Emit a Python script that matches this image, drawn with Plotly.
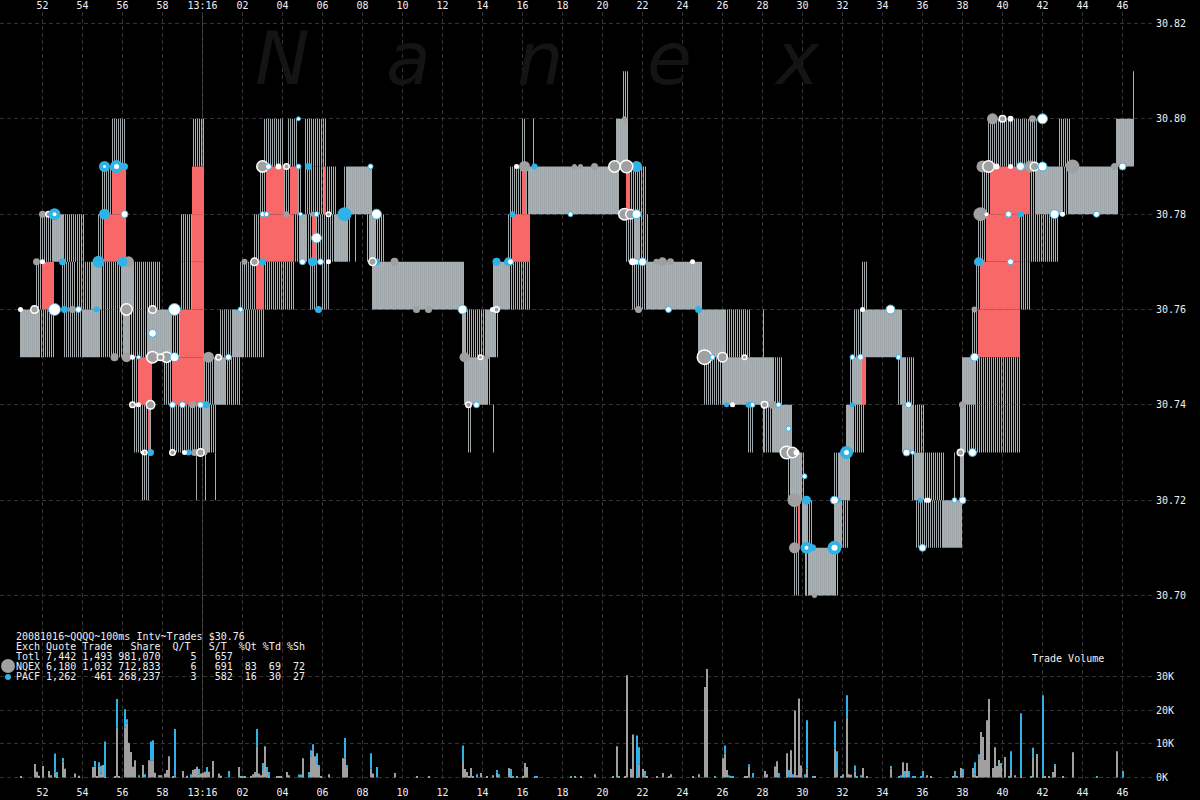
import plotly.graph_objects as go

# ---------- axis data ----------
x_tick_seconds = list(range(-8, 48, 2))
x_tick_labels = ["52", "54", "56", "58", "13:16", "02", "04", "06", "08", "10", "12", "14", "16", "18",
                 "20", "22", "24", "26", "28", "30", "32", "34", "36", "38", "40", "42", "44", "46"]
price_ticks = [30.70, 30.72, 30.74, 30.76, 30.78, 30.80, 30.82]
price_labels = ["30.70", "30.72", "30.74", "30.76", "30.78", "30.80", "30.82"]
volume_ticks = [0, 10000, 20000, 30000]
volume_labels = ["0K", "10K", "20K", "30K"]

# ---------- quote spread bands, in 100 ms bins from 13:16:00: (first bin, end bin, low, high) ----------
nqex_only = [
    (-69, -60, 30.75, 30.76), (9, 15, 30.75, 30.76), (326, 330, 30.75, 30.76), (385, 388, 30.75, 30.76),
    (-83, -80, 30.76, 30.77), (-70, -63, 30.76, 30.77), (19, 27, 30.76, 30.77), (54, 58, 30.76, 30.77),
    (60, 64, 30.76, 30.77), (215, 222, 30.76, 30.77), (330, 333, 30.76, 30.77), (387, 389, 30.76, 30.77),
    (-81, -75, 30.77, 30.78), (-52, -49, 30.77, 30.78), (26, 29, 30.77, 30.78), (52, 55, 30.77, 30.78),
    (57, 66, 30.77, 30.78), (153, 155, 30.77, 30.78), (212, 216, 30.77, 30.78), (388, 392, 30.77, 30.78),
    (-50, -45, 30.78, 30.79), (29, 32, 30.78, 30.79), (41, 44, 30.78, 30.79), (48, 50, 30.78, 30.79),
    (71, 72, 30.78, 30.79), (154, 160, 30.78, 30.79), (162, 163, 30.78, 30.79), (208, 209, 30.78, 30.79),
    (390, 394, 30.78, 30.79), (430, 433, 30.78, 30.79),
    (-45, -38, 30.79, 30.80), (31, 41, 30.79, 30.80), (43, 48, 30.79, 30.80), (160, 162, 30.79, 30.80),
    (393, 418, 30.79, 30.80),
    (-35, -32, 30.74, 30.75), (-19, -15, 30.74, 30.75), (1, 6, 30.74, 30.75), (251, 260, 30.74, 30.75),
    (324, 325, 30.74, 30.75), (348, 349, 30.74, 30.75),
    (-34, -27, 30.73, 30.74), (-26, -25, 30.73, 30.74), (-16, 0, 30.73, 30.74), (133, 135, 30.73, 30.74),
    (273, 276, 30.73, 30.74), (281, 285, 30.73, 30.74),
    (-30, -26, 30.72, 30.73), (-3, -2, 30.72, 30.73), (293, 294, 30.72, 30.73), (316, 318, 30.72, 30.73),
    (355, 356, 30.72, 30.73), (376, 377, 30.72, 30.73),
    (296, 298, 30.71, 30.72), (357, 370, 30.71, 30.72),
    (296, 299, 30.70, 30.71), (302, 303, 30.70, 30.71),
]
pacf_only = [
    (-81, -74, 30.75, 30.76), (-51, -39, 30.75, 30.76), (-36, -27, 30.75, 30.76), (-15, -11, 30.75, 30.76),
    (21, 31, 30.75, 30.76), (132, 142, 30.75, 30.76), (147, 148, 30.75, 30.76), (262, 274, 30.75, 30.76),
    (280, 281, 30.75, 30.76),
    (-63, -55, 30.76, 30.77), (-50, -40, 30.76, 30.77), (-34, -21, 30.76, 30.77), (-11, -5, 30.76, 30.77),
    (31, 46, 30.76, 30.77), (145, 146, 30.76, 30.77), (154, 164, 30.76, 30.77), (409, 414, 30.76, 30.77),
    (-69, -59, 30.77, 30.78), (-11, -5, 30.77, 30.78), (46, 49, 30.77, 30.78), (73, 74, 30.77, 30.78),
    (76, 77, 30.77, 30.78), (82, 84, 30.77, 30.78), (87, 91, 30.77, 30.78), (219, 223, 30.77, 30.78),
    (409, 428, 30.77, 30.78),
    (51, 61, 30.78, 30.79), (62, 67, 30.78, 30.79), (214, 222, 30.78, 30.79), (414, 417, 30.78, 30.79),
    (-5, 1, 30.79, 30.80), (51, 62, 30.79, 30.80), (165, 166, 30.79, 30.80), (428, 434, 30.79, 30.80),
    (210, 213, 30.80, 30.81), (465, 466, 30.80, 30.81),
    (12, 19, 30.74, 30.75), (143, 144, 30.74, 30.75), (286, 290, 30.74, 30.75), (352, 356, 30.74, 30.75),
    (387, 409, 30.74, 30.75),
    (4, 7, 30.73, 30.74), (145, 146, 30.73, 30.74), (280, 281, 30.73, 30.74), (326, 331, 30.73, 30.74),
    (356, 361, 30.73, 30.74), (382, 409, 30.73, 30.74),
    (1, 2, 30.72, 30.73), (6, 7, 30.72, 30.73), (300, 301, 30.72, 30.73), (361, 371, 30.72, 30.73),
    (303, 305, 30.71, 30.72), (320, 323, 30.71, 30.72),
    (301, 302, 30.70, 30.71), (317, 318, 30.70, 30.71),
]
both_exchanges = [
    (-91, -81, 30.75, 30.76), (-60, -51, 30.75, 30.76), (-39, -36, 30.75, 30.76), (-27, -15, 30.75, 30.76),
    (15, 21, 30.75, 30.76), (130, 132, 30.75, 30.76), (142, 147, 30.75, 30.76), (248, 262, 30.75, 30.76),
    (330, 350, 30.75, 30.76),
    (-55, -50, 30.76, 30.77), (-40, -34, 30.76, 30.77), (85, 131, 30.76, 30.77), (146, 154, 30.76, 30.77),
    (222, 250, 30.76, 30.77),
    (-75, -69, 30.77, 30.78), (49, 52, 30.77, 30.78), (66, 73, 30.77, 30.78), (84, 87, 30.77, 30.78),
    (216, 219, 30.77, 30.78),
    (72, 85, 30.78, 30.79), (163, 208, 30.78, 30.79), (417, 430, 30.78, 30.79), (433, 458, 30.78, 30.79),
    (207, 213, 30.79, 30.80), (457, 466, 30.79, 30.80),
    (6, 12, 30.74, 30.75), (131, 143, 30.74, 30.75), (260, 286, 30.74, 30.75), (325, 330, 30.74, 30.75),
    (349, 352, 30.74, 30.75), (380, 387, 30.74, 30.75),
    (0, 4, 30.73, 30.74), (285, 295, 30.73, 30.74), (322, 326, 30.73, 30.74), (350, 356, 30.73, 30.74),
    (379, 382, 30.73, 30.74),
    (294, 300, 30.72, 30.73), (318, 324, 30.72, 30.73), (356, 361, 30.72, 30.73), (379, 381, 30.72, 30.73),
    (300, 303, 30.71, 30.72), (316, 320, 30.71, 30.72), (370, 380, 30.71, 30.72),
    (303, 317, 30.70, 30.71),
]
crossed = [
    (-80, -74, 30.76, 30.77), (-5, 1, 30.76, 30.77), (27, 31, 30.76, 30.77), (389, 409, 30.76, 30.77),
    (-11, 1, 30.75, 30.76), (388, 409, 30.75, 30.76),
    (-49, -38, 30.77, 30.78), (-5, 1, 30.77, 30.78), (29, 46, 30.77, 30.78), (55, 57, 30.77, 30.78),
    (155, 164, 30.77, 30.78), (392, 409, 30.77, 30.78),
    (-45, -38, 30.78, 30.79), (-5, 1, 30.78, 30.79), (32, 41, 30.78, 30.79), (44, 48, 30.78, 30.79),
    (61, 62, 30.78, 30.79), (160, 162, 30.78, 30.79), (212, 214, 30.78, 30.79), (394, 414, 30.78, 30.79),
    (-32, -25, 30.74, 30.75), (-15, 1, 30.74, 30.75), (330, 332, 30.74, 30.75),
    (-27, -26, 30.73, 30.74), (298, 299, 30.71, 30.72),
]

# ---------- trades: (100 ms bin, price, trade-size marker) ----------
gray_trades = [
    (-65, 30.76, 7), (107, 30.76, 7), (113, 30.76, 7), (218, 30.76, 7), (386, 30.76, 6),
    (-83, 30.77, 7), (-37, 30.77, 11), (21, 30.77, 6), (96, 30.77, 8), (227, 30.77, 6), (230, 30.77, 9),
    (234, 30.77, 7), (389, 30.77, 7),
    (-80, 30.78, 7), (42, 30.78, 6), (55, 30.78, 5), (389, 30.78, 14),
    (-38, 30.75, 10), (-44, 30.75, 8), (3, 30.75, 11), (131, 30.75, 10), (142, 30.75, 5),
    (-5, 30.74, 7), (285, 30.74, 8), (380, 30.74, 7),
    (-4, 30.73, 7), (1, 30.73, 6),
    (161, 30.79, 11), (186, 30.79, 5), (189, 30.79, 5), (196, 30.79, 7), (414, 30.79, 12), (435, 30.79, 14),
    (456, 30.79, 7), (390, 30.79, 12),
    (211, 30.80, 5), (395, 30.80, 11), (415, 30.80, 7),
    (296, 30.72, 14), (296, 30.71, 11), (306, 30.70, 5),
]
blue_trades = [
    (-69, 30.76, 7), (-53, 30.76, 6), (58, 30.76, 7), (248, 30.76, 7),
    (-70, 30.77, 7), (-52, 30.77, 12), (-40, 30.77, 10), (30, 30.77, 7), (55, 30.77, 9), (87, 30.77, 7),
    (147, 30.77, 8), (388, 30.77, 9),
    (-49, 30.78, 11), (71, 30.78, 14), (155, 30.78, 6), (409, 30.78, 6),
    (2, 30.74, 7), (262, 30.74, 5), (273, 30.74, 6), (325, 30.74, 5),
    (-26, 30.73, 7), (-7, 30.73, 6),
    (-39, 30.79, 7), (53, 30.79, 7), (166, 30.79, 6), (217, 30.79, 11),
    (302, 30.72, 9), (318, 30.72, 5), (359, 30.72, 5), (305, 30.71, 7),
]
ringed_trades = [
    (-84, 30.76, 9), (-38, 30.76, 13), (-25, 30.76, 9), (147, 30.76, 7),
    (-25, 30.75, 13), (-18, 30.75, 12), (-21, 30.75, 8), (8, 30.75, 7), (139, 30.75, 6), (251, 30.75, 16),
    (260, 30.75, 11), (271, 30.75, 6),
    (-35, 30.74, 7), (-26, 30.74, 10), (133, 30.74, 7), (281, 30.74, 8),
    (-15, 30.73, 7), (-29, 30.73, 6), (-1, 30.73, 9), (379, 30.73, 8), (292, 30.73, 14), (295, 30.73, 12),
    (30, 30.79, 13), (42, 30.79, 7), (206, 30.79, 13), (212, 30.79, 14), (393, 30.79, 13), (416, 30.79, 10),
    (400, 30.80, 8), (26, 30.77, 9), (85, 30.77, 9), (-77, 30.78, 7), (63, 30.78, 6),
    (211, 30.78, 13), (214, 30.78, 11),
]
heavy_blue_trades = [
    (-74, 30.78, 12), (302, 30.71, 12), (316, 30.71, 14), (153, 30.77, 9), (322, 30.73, 13),
    (-43, 30.79, 13), (-49, 30.79, 11),
]
white_trades = [
    (-39, 30.78, 8), (30, 30.78, 6), (32, 30.78, 6), (49, 30.78, 5), (57, 30.78, 6), (87, 30.78, 11),
    (184, 30.78, 6), (217, 30.78, 10), (403, 30.78, 7), (447, 30.78, 7), (426, 30.78, 10),
    (-74, 30.76, 13), (-62, 30.76, 7), (-14, 30.76, 13), (19, 30.76, 6), (233, 30.76, 7), (130, 30.76, 10),
    (344, 30.76, 10), (-25, 30.755, 9), (57, 30.775, 11),
    (50, 30.77, 7), (59, 30.77, 7), (154, 30.77, 7), (217, 30.77, 7), (404, 30.77, 7), (220, 30.77, 9),
    (33, 30.79, 7), (48, 30.79, 6), (84, 30.79, 6), (460, 30.79, 8), (409, 30.79, 9), (420, 30.79, 10),
    (48, 30.80, 5), (420, 30.80, 11),
    (-14, 30.75, 10), (13, 30.75, 7), (-32, 30.75, 5), (255, 30.75, 6), (329, 30.75, 7), (348, 30.75, 6),
    (386, 30.75, 9), (325, 30.75, 6),
    (-15, 30.74, 7), (-10, 30.74, 7), (-1, 30.74, 7), (137, 30.74, 7), (275, 30.74, 6), (288, 30.74, 6),
    (353, 30.74, 7), (293, 30.735, 6),
    (352, 30.73, 8), (355, 30.73, 5), (385, 30.73, 9),
    (301, 30.725, 6), (316, 30.72, 9), (376, 30.72, 6), (380, 30.72, 8), (360, 30.71, 8),
]
small_white_trades = [
    (-91, 30.76, 5), (-80, 30.77, 5), (63, 30.77, 5), (245, 30.77, 5), (215, 30.77, 7),
    (38, 30.79, 6), (157, 30.79, 5), (397, 30.79, 6), (404, 30.79, 5), (-35, 30.75, 5),
    (-32, 30.74, 5), (265, 30.74, 5), (-30, 30.73, 4), (-9, 30.73, 5), (297, 30.73, 6),
    (362, 30.72, 5), (363, 30.72, 5), (392, 30.78, 4), (430, 30.78, 5), (145, 30.76, 5),
    (404, 30.80, 6), (330, 30.76, 5),
]

# ---------- trade volume per 100 ms bin: NQEX (gray) and PACF (blue) ----------
volume_bins = [
    -91, -84, -83, -82, -80, -77, -76, -74, -73, -70, -69, -64, -62, -55, -54, -53, -52, -51, -50, -49,
    -44, -43, -42, -39, -38, -37, -36, -35, -34, -32, -30, -29, -27, -26, -25, -24, -22, -21, -19, -18,
    -17, -15, -14, -10, -8, -6, -5, -4, -3, -2, -1, 0, 1, 2, 3, 5, 8, 9, 13, 18, 19, 20, 21, 24, 25, 26,
    27, 28, 29, 30, 31, 32, 33, 37, 38, 39, 42, 43, 48, 49, 50, 53, 54, 55, 56, 57, 58, 59, 63, 70, 71, 72,
    84, 85, 87, 96,
    107, 113, 130, 131, 132, 133, 134, 135, 137, 139, 142, 145, 147, 148, 153, 154, 155, 157, 160, 161,
    162, 166, 167, 184, 186, 189, 196, 205, 207, 208, 211, 212, 214, 215, 217, 218, 220, 221, 222, 227,
    230, 233, 234, 245, 248, 251, 252, 256, 260, 261, 262, 263, 264, 265, 271, 272, 273, 275, 281, 282,
    286, 287, 288, 292, 293, 294, 295, 296, 297, 298,
    299, 301, 302, 305, 306, 316, 317, 319, 320, 322, 323, 324, 326, 327, 329, 330, 332, 344, 348, 349,
    350, 351, 352, 353, 355, 356, 359, 360, 362, 364, 375, 376, 377, 379, 380, 385, 386, 387, 388, 389,
    390, 391, 392, 393, 395, 396, 397, 398, 399, 401, 403, 404, 406, 409, 414, 415, 417, 420, 421, 423,
    425, 426, 430, 435, 447, 457, 460,
]
volume_gray = [
    200, 4000, 1700, 500, 3400, 1900, 700, 1400, 300, 4700, 2600, 1200, 500, 3100, 3200, 400, 3200, 1200, 3700, 200,
    400, 14900, 400, 14900, 16000, 10300, 7600, 3200, 5100, 0, 3700, 0, 5100, 5100, 5100, 1400, 700, 700, 1200, 2200,
    6300, 400, 700, 1900, 500, 0, 2200, 2500, 3200, 1000, 1200, 1400, 1700, 1900, 1700, 4900, 1200, 500, 0, 3100, 400, 0, 200, 400, 1000, 1600,
    9300, 1200, 700, 2200, 9300, 1600, 200, 200, 400, 200, 1600, 700, 0, 0, 5700, 0, 6300, 8100, 6300, 4200, 3200, 400, 1000, 5700, 5700, 2800,
    2700, 1200, 0, 1300,
    400, 400, 4900, 2500, 1600, 200, 2800, 200, 0, 1300, 400, 700, 1400, 0, 2800, 300, 0, 200, 400, 4300,
    3100, 0, 0, 0, 200, 200, 1000, 200, 9300, 0, 200, 30400, 2500, 12800, 200, 3900, 2500, 700, 200, 200,
    1300, 400, 1000, 200, 1000, 26900, 32200, 0, 5700, 7100, 2200, 0, 0, 0, 400, 400, 3300, 0, 1900, 1000,
    3300, 4800, 0, 7200, 0, 8100, 0, 19900, 700, 23500,
    3600, 0, 2700, 0, 200, 8700, 1900, 0, 1000, 17900, 1000, 800, 1700, 0, 0, 2800, 400, 2700, 0, 0,
    4500, 0, 4300, 0, 0, 0, 0, 0, 700, 200, 200, 1000, 0, 2800, 700, 2800, 1000, 400, 5700, 13500,
    12000, 5200, 17000, 23300, 2800, 9000, 3400, 5200, 4000, 6100, 0, 2200, 700, 300, 0, 5800, 7000, 400, 200, 200,
    1600, 3400, 200, 7500, 0, 7800, 0,
]
volume_blue = [
    0, 0, 0, 0, 0, 0, 0, 5700, 1300, 1100, 0, 0, 0, 0, 1700, 0, 1300, 2300, 0, 10500,
    0, 8400, 0, 5400, 1300, 0, 0, 0, 0, 700, 0, 1000, 0, 5600, 6000, 0, 0, 0, 0, 0,
    0, 0, 13700, 0, 0, 1000, 0, 0, 0, 1500, 0, 0, 0, 1200, 0, 0, 0, 0, 1900, 0, 0, 400, 0, 0, 0, 0,
    5100, 0, 0, 2100, 0, 1500, 1400, 0, 0, 0, 0, 0, 900, 900, 0, 1600, 1800, 1800, 0, 3000, 500, 0, 0, 0, 6000, 900,
    4500, 0, 3100, 0,
    0, 0, 4600, 0, 0, 0, 0, 0, 1000, 0, 0, 0, 800, 1000, 0, 2200, 400, 0, 0, 0,
    0, 200, 200, 400, 0, 0, 0, 0, 0, 200, 0, 0, 0, 0, 12300, 5100, 0, 1200, 0, 0,
    0, 0, 0, 0, 0, 0, 0, 400, 0, 2400, 0, 700, 400, 200, 0, 0, 600, 1300, 0, 0,
    0, 0, 1300, 0, 2200, 0, 1000, 0, 0, 0,
    0, 1000, 14300, 400, 0, 8000, 5900, 200, 0, 6500, 0, 0, 1900, 200, 700, 0, 0, 700, 400, 700,
    0, 1900, 0, 1900, 200, 400, 200, 1900, 0, 0, 0, 900, 200, 0, 1800, 0, 3500, 0, 1200, 0,
    0, 0, 0, 0, 0, 0, 0, 0, 300, 0, 400, 5600, 0, 18800, 400, 3000, 0, 24000, 0, 0,
    0, 600, 0, 0, 400, 0, 1900,
]

# ---------- text block ----------
info_lines = [
    "20081016~QQQQ~100ms Intv~Trades $30.76",
    "Exch Quote Trade   Share  Q/T   S/T  %Qt %Td %Sh",
    "Totl 7,442 1,493 981,070     5   657",
    "NQEX 6,180 1,032 712,833     6   691  83  69  72",
    "PACF 1,262   461 268,237     3   582  16  30  27",
]
watermark_letters = ["N", "a", "n", "e", "x"]

# ---------- styles ----------
GRAY = "#a0a0a0"
STRIPE_GRAY = "#a0a8ac"
BLUE = "#2fb2e8"
STRIPE_BLUE = "#5cccf2"
RED = "#f96868"
TEXT = "#f0f0f0"
MONO = "DejaVu Sans Mono"
GRID = "#333333"
DASH = "4px,3px"


def columns(bands):
    xs, base, height = [], [], []
    for start, end, low, high in bands:
        for b in range(start, end):
            xs.append(b / 10)
            base.append(low)
            height.append(round(high - low, 3))
    return xs, base, height


fig = go.Figure()

gray_bands = nqex_only + both_exchanges
blue_bands = pacf_only + both_exchanges
for bands, shift, colour in ((gray_bands, 0.0, STRIPE_GRAY), (blue_bands, 0.05, STRIPE_BLUE)):
    xs, base, height = columns(bands)
    fig.add_trace(go.Bar(x=[v + shift for v in xs], y=height, base=base, width=0.04,
                         marker=dict(color=colour, line=dict(width=0)), xaxis="x", yaxis="y"))

fig.add_trace(go.Bar(
    x=[(s + e) / 20 - 0.025 for s, e, _, _ in crossed],
    y=[round(h - l, 3) for _, _, l, h in crossed],
    base=[l for _, _, l, _ in crossed],
    width=[(e - s) / 10 for s, e, _, _ in crossed],
    marker=dict(color=RED, line=dict(width=0)), xaxis="x", yaxis="y"))

# trades
marker_styles = [
    (gray_trades, GRAY, GRAY, 0),
    (blue_trades, BLUE, BLUE, 0),
    (ringed_trades, GRAY, "#ffffff", 1.5),
    (heavy_blue_trades, "#ffffff", BLUE, 4),
    (white_trades, "#ffffff", BLUE, 1),
    (small_white_trades, "#ffffff", GRAY, 0),
]
for rows, fill, edge, edge_width in marker_styles:
    fig.add_trace(go.Scatter(
        x=[r[0] / 10 for r in rows], y=[r[1] for r in rows], mode="markers",
        marker=dict(size=[r[2] - edge_width for r in rows], color=fill,
                    line=dict(color=edge, width=edge_width), opacity=1),
        xaxis="x", yaxis="y"))

# volume
vol_x = [b / 10 + 0.025 for b in volume_bins]
fig.add_trace(go.Bar(x=vol_x, y=volume_gray, width=0.09,
                     marker=dict(color=GRAY, line=dict(width=0)), xaxis="x", yaxis="y2"))
fig.add_trace(go.Bar(x=vol_x, y=volume_blue, base=volume_gray, width=0.09,
                     marker=dict(color=BLUE, line=dict(width=0)), xaxis="x", yaxis="y2"))
# keeps the top time axis alive
fig.add_trace(go.Scatter(x=[0], y=[30.76], mode="markers", marker=dict(opacity=0), xaxis="x2", yaxis="y"))

x_range = [-10.125, 47.625]
x_domain = [0, 1155 / 1200]
y_domain = [20 / 800, 788 / 800]
mono_font = dict(family=MONO, size=10, color=TEXT)

annotations = []
for i, line in enumerate(info_lines):
    annotations.append(dict(xref="paper", yref="paper", x=15 / 1200, y=1 - (636.5 + 10 * i) / 800,
                            xanchor="left", yanchor="middle", showarrow=False, borderpad=0,
                            text=line.replace(" ", "\u00a0"), font=mono_font))
annotations.append(dict(xref="paper", yref="paper", x=1031 / 1200, y=1 - 658 / 800, xanchor="left",
                        yanchor="middle", showarrow=False, borderpad=0,
                        text="Trade\u00a0Volume", font=mono_font))
for letter, cx in zip(watermark_letters, (282, 408, 540, 669, 797)):
    annotations.append(dict(xref="paper", yref="paper", x=cx / 1200, y=1 - 59 / 800, xanchor="center",
                            yanchor="middle", showarrow=False, borderpad=0, text=letter,
                            font=dict(family="DejaVu Sans", size=73, color="#141414", style="italic")))

legend_keys = [(8, 666, 7, GRAY), (8, 677, 3, BLUE)]
shapes = [dict(type="line", xref="x", yref="y domain", x0=0, x1=0, y0=0, y1=1, layer="below",
               line=dict(color="#4a4a4a", width=1))]
for cx, cy, r, colour in legend_keys:
    shapes.append(dict(type="circle", xref="paper", yref="paper", x0=(cx - r) / 1200, x1=(cx + r) / 1200,
                       y0=1 - (cy + r) / 800, y1=1 - (cy - r) / 800, fillcolor=colour, line=dict(width=0)))

fig.update_layout(
    width=1200, height=800, margin=dict(l=0, r=0, t=0, b=0, pad=0), autosize=False,
    paper_bgcolor="#000000", plot_bgcolor="#000000", barmode="overlay", showlegend=False,
    hovermode=False, font=mono_font, annotations=annotations, shapes=shapes,
    xaxis=dict(domain=x_domain, range=x_range, tickmode="array", tickvals=x_tick_seconds, ticktext=x_tick_labels,
               side="bottom", anchor="y", showgrid=True, gridcolor=GRID, griddash=DASH, gridwidth=1,
               zeroline=False, showline=False, ticks="outside", ticklen=3, tickcolor="#000000",
               tickfont=mono_font, tickangle=0, automargin=False),
    xaxis2=dict(domain=x_domain, range=x_range, overlaying="x", side="top", anchor="y", tickmode="array",
                tickvals=x_tick_seconds, ticktext=x_tick_labels, showgrid=False, zeroline=False, showline=False,
                ticks="", tickfont=mono_font, tickangle=0, automargin=False),
    yaxis=dict(domain=y_domain, range=[30.661296, 30.822413], side="right", anchor="x", tickmode="array",
               tickvals=price_ticks, ticktext=price_labels, showgrid=True, gridcolor=GRID, griddash=DASH,
               gridwidth=1, zeroline=False, showline=False, ticks="", tickfont=mono_font, automargin=False),
    yaxis2=dict(domain=y_domain, range=[-742.6, 227376], overlaying="y", side="right", anchor="x", tickmode="array",
                tickvals=volume_ticks, ticktext=volume_labels, showgrid=True, gridcolor=GRID, griddash=DASH,
                gridwidth=1, zeroline=False, showline=False, ticks="", tickfont=mono_font, automargin=False),
)

assert len(volume_bins) == len(volume_gray) == len(volume_blue), (len(volume_bins), len(volume_gray), len(volume_blue))
fig.write_html("out.html", config=dict(displayModeBar=False),
               post_script="document.documentElement.style.background='#000';document.documentElement.style.overflow='hidden';document.body.style.margin='0';document.body.style.background='#000';")
